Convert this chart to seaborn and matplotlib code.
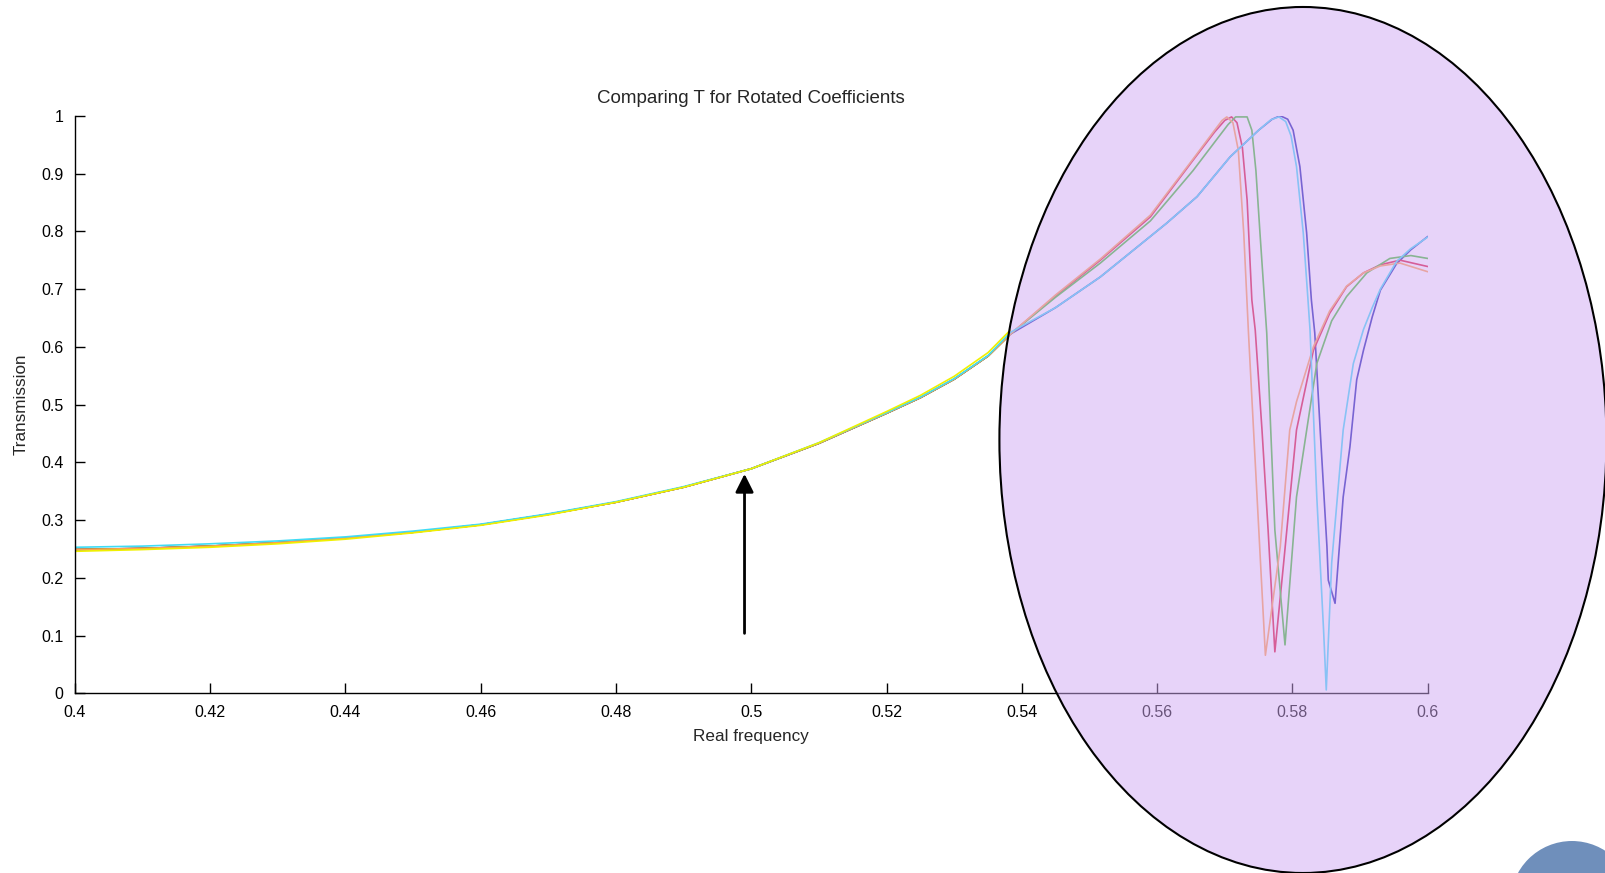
import numpy as np
import pandas as pd
import matplotlib
matplotlib.use("Agg")
import matplotlib.pyplot as plt
import seaborn as sns
from matplotlib.patches import Ellipse

# shared part of the curves (outside the highlighted region)
base_x = [0.40, 0.41, 0.42, 0.43, 0.44, 0.45, 0.46, 0.47, 0.48, 0.49,
          0.50, 0.51, 0.52, 0.525, 0.53, 0.535, 0.5383]
base_cyan = [0.253, 0.255, 0.259, 0.264, 0.271, 0.281, 0.293, 0.311, 0.332, 0.358,
             0.389, 0.434, 0.486, 0.513, 0.545, 0.585, 0.625]
base_yellow = [0.246, 0.249, 0.253, 0.259, 0.267, 0.278, 0.291, 0.309, 0.331, 0.357,
               0.389, 0.434, 0.488, 0.516, 0.549, 0.590, 0.629]
base_other = [0.249, 0.251, 0.255, 0.261, 0.269, 0.279, 0.292, 0.310, 0.331, 0.357,
              0.389, 0.433, 0.485, 0.512, 0.544, 0.584, 0.622]

# tails inside the highlighted region
red_x = [0.545, 0.5516, 0.559, 0.5653, 0.5685, 0.5700, 0.5710, 0.5718, 0.5726, 0.5733,
         0.5740, 0.5745, 0.5755, 0.5764, 0.5774, 0.5787, 0.5806, 0.5831, 0.5855, 0.5880,
         0.5905, 0.5930, 0.5959, 0.60]
red_y = [0.688, 0.750, 0.825, 0.923, 0.972, 0.992, 0.998, 0.988, 0.945, 0.854,
         0.681, 0.629, 0.456, 0.283, 0.072, 0.226, 0.456, 0.594, 0.658, 0.704,
         0.728, 0.742, 0.750, 0.739]

orange_x = [0.545, 0.5516, 0.559, 0.5653, 0.5685, 0.5696, 0.5703, 0.5712, 0.5720, 0.5728,
            0.5735, 0.5745, 0.5760, 0.5782, 0.5796, 0.5806, 0.5831, 0.5855, 0.5880, 0.5905,
            0.5930, 0.5959, 0.60]
orange_y = [0.690, 0.752, 0.828, 0.925, 0.975, 0.992, 0.998, 0.988, 0.940, 0.797,
            0.624, 0.400, 0.066, 0.254, 0.456, 0.505, 0.600, 0.662, 0.705, 0.728,
            0.740, 0.745, 0.730]

green_x = [0.545, 0.5516, 0.559, 0.5653, 0.5690, 0.5705, 0.5716, 0.5733, 0.5740, 0.5746,
           0.5752, 0.5762, 0.5774, 0.5789, 0.5806, 0.5836, 0.5858, 0.5880, 0.5910, 0.5944,
           0.5975, 0.60]
green_y = [0.686, 0.745, 0.818, 0.905, 0.962, 0.985, 0.998, 0.998, 0.975, 0.905,
           0.797, 0.624, 0.283, 0.084, 0.340, 0.571, 0.645, 0.687, 0.728, 0.753,
           0.758, 0.753]

blue_x = [0.545, 0.5516, 0.5614, 0.5659, 0.5708, 0.5750, 0.5770, 0.5782, 0.5793, 0.5801,
          0.5811, 0.5821, 0.5828, 0.5833, 0.5841, 0.5851, 0.5853, 0.5863, 0.5875, 0.5885,
          0.5895, 0.5905, 0.5918, 0.5930, 0.5954, 0.5975, 0.60]
blue_y = [0.668, 0.721, 0.814, 0.860, 0.929, 0.975, 0.994, 1.000, 0.994, 0.975,
          0.912, 0.797, 0.681, 0.624, 0.456, 0.254, 0.196, 0.156, 0.340, 0.427,
          0.543, 0.594, 0.652, 0.698, 0.744, 0.768, 0.791]

lblue_x = [0.545, 0.5516, 0.5614, 0.5659, 0.5708, 0.5750, 0.5768, 0.5780, 0.5790, 0.5798,
           0.5806, 0.5816, 0.5823, 0.5826, 0.5836, 0.5846, 0.5850, 0.5858, 0.5875, 0.5890,
           0.5905, 0.5918, 0.5930, 0.5954, 0.5975, 0.60]
lblue_y = [0.668, 0.721, 0.814, 0.860, 0.929, 0.975, 0.993, 0.998, 0.990, 0.965,
           0.912, 0.797, 0.681, 0.629, 0.340, 0.110, 0.006, 0.226, 0.456, 0.571,
           0.630, 0.668, 0.700, 0.748, 0.770, 0.790]

series_colors = {
    "blue": "#1f1fb0",
    "red": "#dc143c",
    "green": "#40c030",
    "orange": "#ffa050",
    "cyan": "#40dcf5",
    "yellow": "#f0f000",
}

x_ticks = [0.4, 0.42, 0.44, 0.46, 0.48, 0.5, 0.52, 0.54, 0.56, 0.58, 0.6]
x_ticklabels = ["0.4", "0.42", "0.44", "0.46", "0.48", "0.5", "0.52", "0.54", "0.56", "0.58", "0.6"]
y_ticks = [0, 0.1, 0.2, 0.3, 0.4, 0.5, 0.6, 0.7, 0.8, 0.9, 1]
y_ticklabels = ["0", "0.1", "0.2", "0.3", "0.4", "0.5", "0.6", "0.7", "0.8", "0.9", "1"]

rows = []
def add(name, xs, ys):
    for i, (a, b) in enumerate(zip(xs, ys)):
        rows.append({"series": name, "order": i, "freq": a, "T": b})

add("blue", base_x + blue_x, base_other + blue_y)
add("red", base_x + red_x, base_other + red_y)
add("green", base_x + green_x, base_other + green_y)
add("orange", base_x + orange_x, base_other + orange_y)
add("cyan", base_x + lblue_x, base_cyan + lblue_y)
add("yellow", base_x, base_yellow)
df = pd.DataFrame(rows)

sns.set_style("ticks")
plt.rcParams["font.family"] = ["Liberation Sans", "DejaVu Sans"]

fig = plt.figure(figsize=(16.06, 8.73), dpi=100)
ax = fig.add_axes([0.0466, 0.2057, 0.8424, 0.6617])

sns.lineplot(data=df, x="freq", y="T", hue="series", palette=series_colors,
             hue_order=list(series_colors.keys()), units="series", estimator=None,
             sort=False, legend=False, linewidth=1.2, ax=ax)

ax.set_xlim(0.4, 0.6)
ax.set_ylim(0, 1)
ax.set_xticks(x_ticks)
ax.set_xticklabels(x_ticklabels)
ax.set_yticks(y_ticks)
ax.set_yticklabels(y_ticklabels)
ax.tick_params(direction="in", length=7.5, width=1, colors="black", labelsize=11.5)
ax.tick_params(axis="x", pad=8)
ax.tick_params(axis="y", pad=8)
sns.despine(ax=ax)
for s in ["left", "bottom"]:
    ax.spines[s].set_color("black")
    ax.spines[s].set_linewidth(1)
ax.set_facecolor("white")

ax.set_title("Comparing T for Rotated Coefficients", fontsize=13.5, pad=9)
ax.set_xlabel("Real frequency", fontsize=12.3, labelpad=6.5)
ax.set_ylabel("Transmission", fontsize=12.3, labelpad=9)

# arrow pointing at the curve
ax.annotate("", xy=(0.499, 0.38), xytext=(0.499, 0.104),
            arrowprops=dict(arrowstyle="-|>,head_length=0.5,head_width=0.25",
                            color="black", lw=2, mutation_scale=22, shrinkA=0, shrinkB=0))

# highlight ellipse (semi-transparent, above the axes)
fig.add_artist(Ellipse((0.8113, 0.4960), 0.3780, 0.9920, transform=fig.transFigure,
                       facecolor=(209 / 255, 169 / 255, 245 / 255, 0.5),
                       edgecolor="black", linewidth=1.5, zorder=5))
# slide decoration circle
fig.add_artist(Ellipse((0.9788, -0.0339), 0.0767, 0.1411, transform=fig.transFigure,
                       facecolor="#6f8fbb", edgecolor="none", zorder=5))

fig.savefig("out.png", dpi=100)
